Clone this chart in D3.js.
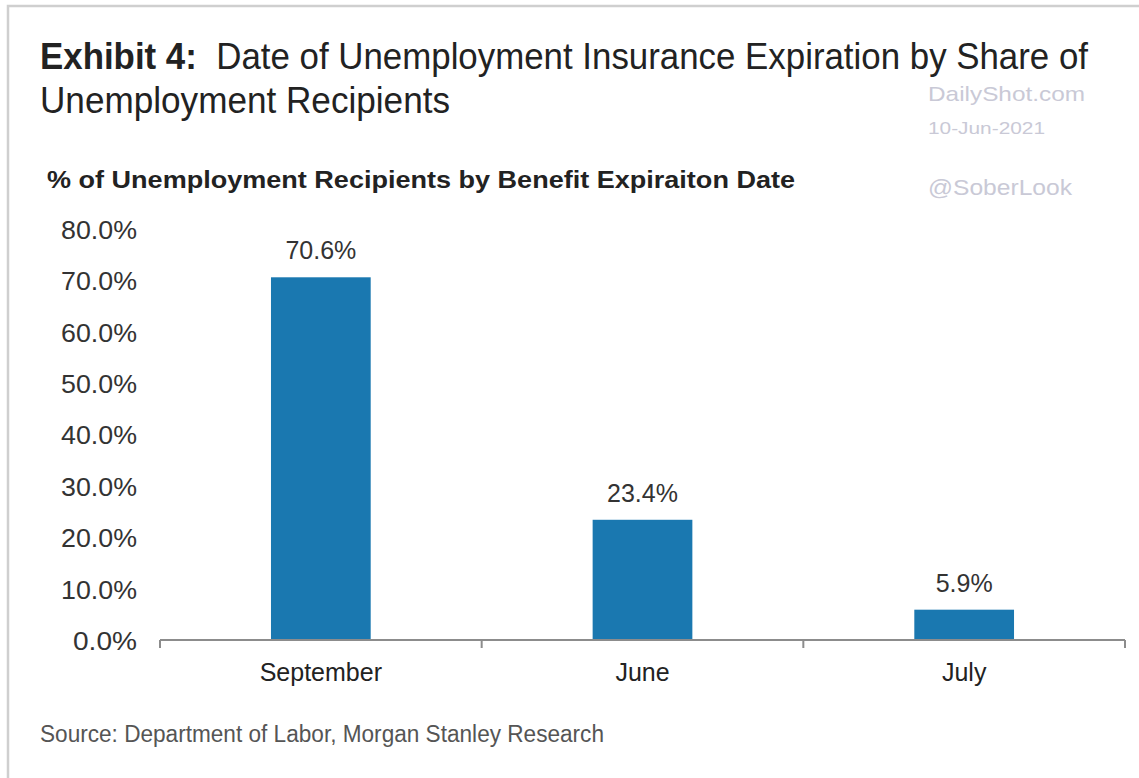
<!DOCTYPE html>
<html>
<head>
<meta charset="utf-8">
<script src="https://cdn.jsdelivr.net/npm/d3@7"></script>
<style>
  body { margin: 0; background: #fff; }
  svg { display: block; }
</style>
</head>
<body>
<div id="chart"></div>
<script>
// chart data
var months = ["September", "June", "July"];
var shares = [70.6, 23.4, 5.9];
var yTicks = [0, 10, 20, 30, 40, 50, 60, 70, 80];

var w = 1139, h = 778;
var narrow = "'Liberation Sans Narrow', 'Arial Narrow', 'Liberation Sans', Arial, sans-serif";
var sans = "'Liberation Sans', Arial, Helvetica, sans-serif";

var svg = d3.select("#chart").append("svg")
    .attr("width", w)
    .attr("height", h);

// frame of the exhibit (top and left edge only)
svg.append("path")
    .attr("d", "M8,778 V6 H1139")
    .attr("fill", "none")
    .attr("stroke", "#cfcfcf")
    .attr("stroke-width", 2.5);

// title
var title = svg.append("text")
    .attr("x", 40).attr("y", 69)
    .attr("font-family", narrow)
    .attr("font-size", 36)
    .attr("fill", "#222")
    .attr("textLength", 1048)
    .attr("lengthAdjust", "spacingAndGlyphs");
title.append("tspan").attr("font-weight", "bold").text("Exhibit 4:");
title.append("tspan").text("\u00a0 Date of Unemployment Insurance Expiration by Share of");

svg.append("text")
    .attr("x", 40).attr("y", 113)
    .attr("font-family", narrow)
    .attr("font-size", 36)
    .attr("fill", "#222")
    .attr("textLength", 410)
    .attr("lengthAdjust", "spacingAndGlyphs")
    .text("Unemployment Recipients");

// watermark
var wm = "#c9c9d6";
svg.append("text").attr("x", 928).attr("y", 101)
    .attr("font-family", sans).attr("font-size", 21).attr("fill", wm)
    .attr("textLength", 157).attr("lengthAdjust", "spacingAndGlyphs")
    .text("DailyShot.com");
svg.append("text").attr("x", 928).attr("y", 134)
    .attr("font-family", sans).attr("font-size", 16).attr("fill", wm)
    .attr("textLength", 117).attr("lengthAdjust", "spacingAndGlyphs")
    .text("10-Jun-2021");
svg.append("text").attr("x", 928).attr("y", 195)
    .attr("font-family", sans).attr("font-size", 22).attr("fill", wm)
    .attr("textLength", 144).attr("lengthAdjust", "spacingAndGlyphs")
    .text("@SoberLook");

// subtitle
svg.append("text")
    .attr("x", 47).attr("y", 188)
    .attr("font-family", sans)
    .attr("font-size", 23)
    .attr("font-weight", "bold")
    .attr("fill", "#222")
    .attr("textLength", 748)
    .attr("lengthAdjust", "spacingAndGlyphs")
    .text("% of Unemployment Recipients by Benefit Expiraiton Date");

// scales
var x = d3.scaleBand()
    .domain(months)
    .range([160, 1125])
    .paddingInner(0.69)
    .paddingOuter(0.345);

var y = d3.scaleLinear()
    .domain([0, 80])
    .range([640, 229]);

// y tick labels (no axis line)
svg.append("g")
    .attr("transform", "translate(137,0)")
    .call(d3.axisLeft(y).tickValues(yTicks).tickSize(0).tickPadding(0)
        .tickFormat(function(d) { return d3.format(".1f")(d) + "%"; }))
    .call(function(g) {
        g.select(".domain").remove();
        g.selectAll("text")
            .attr("font-family", sans)
            .attr("font-size", 26)
            .attr("fill", "#333")
            .attr("textLength", function(d) { return d < 10 ? 64 : 76; })
            .attr("lengthAdjust", "spacingAndGlyphs")
            .attr("dy", "0.36em");
    });

// bars
svg.selectAll("rect.bar")
    .data(months)
    .enter()
    .append("rect")
    .attr("class", "bar")
    .attr("x", function(d) { return x(d); })
    .attr("width", x.bandwidth())
    .attr("y", function(d, i) { return y(shares[i]); })
    .attr("height", function(d, i) { return y(0) - y(shares[i]); })
    .attr("fill", "#1a78b0");

// value labels
svg.selectAll("text.val")
    .data(months)
    .enter()
    .append("text")
    .attr("class", "val")
    .attr("x", function(d) { return x(d) + x.bandwidth() / 2; })
    .attr("y", function(d, i) { return y(shares[i]) - 18; })
    .attr("text-anchor", "middle")
    .attr("font-family", sans)
    .attr("font-size", 25)
    .attr("fill", "#333")
    .text(function(d, i) { return d3.format(".1f")(shares[i]) + "%"; });

// x axis with ticks between categories
var xAxis = svg.append("g")
    .attr("transform", "translate(0,640)");
xAxis.append("line")
    .attr("x1", 160).attr("x2", 1125)
    .attr("stroke", "#8c8c8c").attr("stroke-width", 2);
var edges = [160].concat(months.map(function(d) { return x(d) + x.bandwidth() / 2 + x.step() / 2; }));
xAxis.selectAll("line.tick")
    .data(edges)
    .enter()
    .append("line")
    .attr("class", "tick")
    .attr("x1", function(d) { return d; })
    .attr("x2", function(d) { return d; })
    .attr("y1", 0).attr("y2", 8)
    .attr("stroke", "#8c8c8c").attr("stroke-width", 2);
xAxis.selectAll("text")
    .data(months)
    .enter()
    .append("text")
    .attr("x", function(d) { return x(d) + x.bandwidth() / 2; })
    .attr("y", 41)
    .attr("text-anchor", "middle")
    .attr("font-family", sans)
    .attr("font-size", 25)
    .attr("fill", "#222")
    .text(function(d) { return d; });

// source
svg.append("text")
    .attr("x", 40).attr("y", 742)
    .attr("font-family", narrow)
    .attr("font-size", 23)
    .attr("fill", "#555")
    .attr("textLength", 564)
    .attr("lengthAdjust", "spacingAndGlyphs")
    .text("Source: Department of Labor, Morgan Stanley Research");
</script>
</body>
</html>
